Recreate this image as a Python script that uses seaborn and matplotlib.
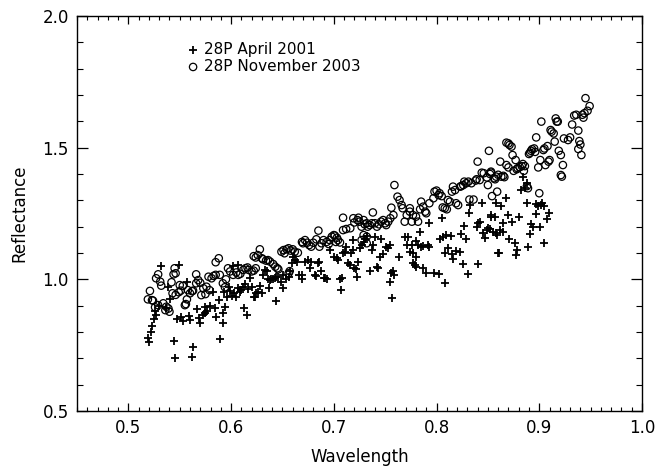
import matplotlib
matplotlib.use("Agg")
import matplotlib.pyplot as plt
import seaborn as sns
import pandas as pd
from matplotlib.ticker import MultipleLocator, FormatStrFormatter

# ---- data ----
apr2001_x = [
    0.519, 0.520, 0.522, 0.523, 0.525, 0.527, 0.526, 0.530, 0.532, 0.537, 0.541, 0.539,
    0.544, 0.545, 0.547, 0.549, 0.551, 0.553, 0.557, 0.559, 0.560, 0.562, 0.563, 0.567,
    0.569, 0.570, 0.573, 0.575, 0.577, 0.575, 0.579, 0.584, 0.585, 0.588, 0.582, 0.589,
    0.592, 0.594, 0.596, 0.593, 0.598, 0.592,
    0.599, 0.601, 0.603, 0.605, 0.607, 0.609, 0.610, 0.612, 0.614, 0.616, 0.618, 0.620,
    0.622, 0.623, 0.624, 0.626, 0.628, 0.630, 0.631, 0.633, 0.635, 0.636, 0.637, 0.638,
    0.639, 0.641, 0.643, 0.644, 0.644, 0.646, 0.649, 0.651, 0.651, 0.653, 0.656, 0.657,
    0.659, 0.660, 0.662, 0.664, 0.666, 0.669, 0.669, 0.672, 0.675, 0.677, 0.678, 0.682,
    0.683, 0.685, 0.613, 0.615, 0.602, 0.607,
    0.686, 0.688, 0.690, 0.691, 0.693, 0.696, 0.700, 0.703, 0.704, 0.706, 0.708, 0.707,
    0.709, 0.711, 0.712, 0.714, 0.716, 0.717, 0.719, 0.720, 0.722, 0.723, 0.724, 0.725,
    0.727, 0.729, 0.730, 0.732, 0.735, 0.737, 0.738, 0.740, 0.742, 0.743, 0.745, 0.746,
    0.748, 0.751, 0.753, 0.755, 0.755, 0.756, 0.758, 0.759, 0.757, 0.763, 0.769, 0.771,
    0.772, 0.774, 0.776, 0.777, 0.779, 0.780, 0.782, 0.784, 0.719,
    0.793, 0.805, 0.780, 0.785, 0.787, 0.792, 0.793, 0.777, 0.780, 0.787, 0.790, 0.798,
    0.802, 0.808, 0.803, 0.806, 0.809, 0.814, 0.808, 0.811, 0.815, 0.816, 0.819, 0.823,
    0.826, 0.824, 0.827, 0.829, 0.831, 0.832, 0.833, 0.839, 0.840, 0.840, 0.842, 0.844,
    0.845, 0.847, 0.849, 0.850, 0.852, 0.853, 0.855, 0.858, 0.859, 0.860,
    0.884, 0.882, 0.886, 0.888, 0.868, 0.863, 0.853, 0.857, 0.870, 0.880, 0.865, 0.873,
    0.862, 0.858, 0.865, 0.871, 0.876, 0.878, 0.877, 0.889, 0.891, 0.892, 0.894, 0.897,
    0.901, 0.905, 0.888, 0.897, 0.899, 0.902, 0.903, 0.905, 0.909, 0.908, 0.861,
]
apr2001_y = [
    0.776, 0.763, 0.800, 0.822, 0.848, 0.865, 0.880, 0.900, 1.052, 0.890, 0.925, 0.972,
    0.766, 0.700, 0.848, 1.054, 0.857, 0.840, 0.990, 0.860, 0.845, 0.706, 0.744, 0.886,
    0.853, 0.833, 0.865, 0.872, 0.880, 0.895, 0.900, 0.890, 0.858, 0.920, 0.953, 0.773,
    0.833, 0.896, 0.934, 0.951, 0.972, 0.871,
    0.957, 0.937, 0.950, 0.934, 0.966, 0.953, 0.959, 0.969, 0.982, 0.962, 1.004, 0.969,
    0.934, 0.932, 0.947, 0.953, 0.975, 0.950, 1.017, 1.035, 1.030, 1.000, 0.966, 0.997,
    1.000, 1.001, 1.004, 0.919, 1.010, 1.007, 0.991, 0.966, 1.017, 1.000, 1.010, 1.030,
    1.063, 1.086, 1.073, 1.067, 1.017, 1.000, 1.017, 1.067, 1.073, 1.042, 1.067, 1.017,
    1.013, 1.063, 0.890, 0.864, 1.050, 1.054,
    1.067, 1.030, 1.006, 1.004, 1.001, 1.111, 1.086, 1.080, 1.073, 1.000, 1.006, 0.959,
    1.099, 1.105, 1.124, 1.061, 1.054, 1.099, 1.111, 1.042, 1.039, 1.010, 1.067, 1.118,
    1.130, 1.142, 1.153, 1.166, 1.030, 1.111, 1.130, 1.162, 1.048, 1.042, 1.086, 1.153,
    1.095, 1.124, 1.120, 1.130, 0.991, 1.023, 1.030, 1.017, 0.930, 1.086, 1.162, 1.130,
    1.162, 1.105, 1.130, 1.099, 1.054, 1.086, 1.130, 1.181, 1.149,
    1.215, 1.232, 1.147, 1.124, 1.126, 1.130, 1.124, 1.061, 1.048, 1.042, 1.025, 1.023,
    1.020, 0.985, 1.152, 1.162, 1.168, 1.164, 1.101, 1.118, 1.096, 1.076, 1.109, 1.105,
    1.058, 1.172, 1.202, 1.152, 1.020, 1.251, 1.282, 1.200, 1.058, 1.213, 1.219, 1.291,
    1.175, 1.156, 1.187, 1.194, 1.190, 1.238, 1.181, 1.291, 1.168, 1.101,
    1.387, 1.339, 1.346, 1.365, 1.308, 1.279, 1.244, 1.235, 1.244, 1.235, 1.215, 1.219,
    1.187, 1.175, 1.181, 1.152, 1.137, 1.111, 1.092, 1.124, 1.172, 1.210, 1.200, 1.248,
    1.200, 1.139, 1.289, 1.286, 1.279, 1.282, 1.291, 1.279, 1.251, 1.228, 1.101,
]

nov2003_x = [
    0.521, 0.519, 0.523, 0.524, 0.529, 0.527, 0.531, 0.532, 0.526, 0.529, 0.534, 0.537,
    0.536, 0.539, 0.540, 0.542, 0.545, 0.546, 0.544, 0.543, 0.546, 0.549, 0.550, 0.553,
    0.551, 0.555, 0.556, 0.557, 0.558, 0.562, 0.563, 0.560, 0.566, 0.568, 0.566, 0.570,
    0.571, 0.575, 0.573, 0.576, 0.578, 0.581, 0.583, 0.585, 0.589, 0.585, 0.588, 0.597,
    0.599, 0.579, 0.592, 0.595, 0.594,
    0.602, 0.605, 0.607, 0.609, 0.612, 0.614, 0.616, 0.617, 0.620, 0.622, 0.624, 0.622,
    0.624, 0.626, 0.628, 0.630, 0.631, 0.634, 0.636, 0.638, 0.641, 0.643, 0.645, 0.646,
    0.649, 0.651, 0.652, 0.654, 0.656, 0.658, 0.660, 0.662, 0.665, 0.657, 0.656, 0.669,
    0.670, 0.672, 0.674, 0.676, 0.678, 0.680, 0.683, 0.685, 0.686, 0.688, 0.690, 0.693,
    0.695, 0.696, 0.698,
    0.700, 0.701, 0.703, 0.704, 0.706, 0.702, 0.709, 0.709, 0.712, 0.716, 0.719, 0.720,
    0.723, 0.724, 0.725, 0.729, 0.727, 0.730, 0.732, 0.733, 0.735, 0.737, 0.738, 0.740,
    0.742, 0.744, 0.746, 0.748, 0.750, 0.751, 0.753, 0.755, 0.756, 0.758, 0.759, 0.762,
    0.764, 0.766, 0.767, 0.769, 0.771, 0.774, 0.777, 0.780, 0.729, 0.732, 0.727, 0.732,
    0.774, 0.776, 0.782, 0.784, 0.787, 0.789, 0.790, 0.785, 0.793, 0.797, 0.798, 0.800,
    0.802, 0.803, 0.805, 0.806, 0.808, 0.810, 0.811, 0.813, 0.815, 0.816, 0.818, 0.819,
    0.821, 0.823, 0.824, 0.826, 0.827, 0.829, 0.831, 0.832, 0.836, 0.834, 0.838, 0.839,
    0.840, 0.842, 0.844, 0.846, 0.849, 0.850, 0.852, 0.853, 0.854, 0.857, 0.859, 0.851,
    0.853, 0.856, 0.858, 0.860, 0.863, 0.865, 0.866, 0.862, 0.868, 0.870, 0.871, 0.873,
    0.874, 0.868, 0.870, 0.875, 0.877, 0.878, 0.879, 0.881, 0.883, 0.884, 0.885, 0.886,
    0.888, 0.889, 0.890, 0.891, 0.892, 0.893, 0.895, 0.896, 0.897, 0.900, 0.899, 0.901,
    0.902, 0.904, 0.905, 0.906, 0.908, 0.909, 0.910, 0.911, 0.912, 0.914, 0.915, 0.916,
    0.917, 0.918, 0.919, 0.921, 0.922, 0.923, 0.924, 0.921, 0.930, 0.928, 0.932, 0.934,
    0.936, 0.938, 0.939, 0.940, 0.942, 0.943, 0.944, 0.947, 0.949, 0.945, 0.938, 0.941,
]
nov2003_y = [
    0.956, 0.924, 0.921, 0.919, 1.019, 1.004, 0.991, 0.976, 0.894, 0.902, 0.909, 0.896,
    0.883, 0.889, 0.877, 0.989, 1.042, 1.023, 1.019, 0.947, 0.941, 0.951, 0.978, 0.975,
    0.957, 0.902, 0.906, 0.924, 0.959, 0.955, 0.957, 0.947, 1.019, 0.997, 0.985, 0.987,
    0.940, 0.944, 0.966, 0.972, 1.010, 1.004, 1.013, 1.017, 1.017, 1.065, 1.080, 1.042,
    1.030, 0.959, 0.985, 1.000, 0.970,
    1.017, 1.026, 1.017, 1.021, 1.036, 1.042, 1.045, 1.036, 1.030, 1.033, 1.042, 1.088,
    1.083, 1.092, 1.114, 1.080, 1.076, 1.071, 1.073, 1.067, 1.058, 1.048, 1.042, 1.038,
    1.105, 1.111, 1.099, 1.114, 1.118, 1.109, 1.114, 1.105, 1.101, 1.031, 1.023, 1.142,
    1.137, 1.149, 1.139, 1.130, 1.124, 1.139, 1.152, 1.185, 1.124, 1.137, 1.149, 1.142,
    1.134, 1.149, 1.162,
    1.168, 1.166, 1.158, 1.149, 1.140, 1.142, 1.234, 1.187, 1.191, 1.194, 1.232, 1.216,
    1.225, 1.234, 1.219, 1.225, 1.200, 1.209, 1.213, 1.200, 1.206, 1.213, 1.254, 1.213,
    1.200, 1.209, 1.219, 1.225, 1.213, 1.206, 1.219, 1.232, 1.272, 1.244, 1.358, 1.314,
    1.301, 1.282, 1.270, 1.219, 1.244, 1.257, 1.244, 1.238, 1.168, 1.162, 1.149, 1.137,
    1.270, 1.219, 1.219, 1.266, 1.276, 1.257, 1.251, 1.295, 1.289, 1.308, 1.333, 1.337,
    1.320, 1.327, 1.316, 1.273, 1.270, 1.266, 1.301, 1.295, 1.333, 1.352, 1.339, 1.289,
    1.282, 1.352, 1.354, 1.358, 1.371, 1.365, 1.371, 1.303, 1.303, 1.365, 1.375, 1.380,
    1.447, 1.377, 1.405, 1.403, 1.387, 1.358, 1.400, 1.405, 1.316, 1.380, 1.333, 1.488,
    1.409, 1.384, 1.390, 1.397, 1.390, 1.393, 1.388, 1.447, 1.519, 1.516, 1.510, 1.504,
    1.472, 1.434, 1.425, 1.412, 1.453, 1.418, 1.422, 1.426, 1.430, 1.438, 1.412, 1.430,
    1.354, 1.346, 1.476, 1.481, 1.488, 1.494, 1.497, 1.484, 1.539, 1.327, 1.425, 1.453,
    1.599, 1.491, 1.497, 1.434, 1.506, 1.447, 1.453, 1.567, 1.561, 1.554, 1.523, 1.611,
    1.599, 1.599, 1.488, 1.396, 1.390, 1.434, 1.535, 1.472, 1.539, 1.529, 1.588, 1.622,
    1.625, 1.565, 1.525, 1.512, 1.625, 1.614, 1.631, 1.640, 1.658, 1.688, 1.495, 1.472,
]

series_labels = ["28P April 2001", "28P November 2003"]
x_label = "Wavelength"
y_label = "Reflectance"

# ---- plotting ----
sns.set_style("white")
plt.rcParams["font.family"] = ["DejaVu Sans"]
plt.rcParams["text.color"] = "black"
plt.rcParams["axes.labelcolor"] = "black"
plt.rcParams["xtick.color"] = "black"
plt.rcParams["ytick.color"] = "black"

fig = plt.figure(figsize=(6.55, 4.70), dpi=100)
ax = fig.add_axes([77 / 655, 1 - 411 / 470, 565 / 655, 395 / 470])

df_a = pd.DataFrame({"x": apr2001_x, "y": apr2001_y})
df_n = pd.DataFrame({"x": nov2003_x, "y": nov2003_y})

sns.scatterplot(data=df_a, x="x", y="y", ax=ax, marker="+", color="black",
                s=36, linewidth=1.3, label=series_labels[0])
sns.scatterplot(data=df_n, x="x", y="y", ax=ax, marker="o", facecolor="none",
                edgecolor="black", s=28, linewidth=0.9, label=series_labels[1])

ax.set_xlim(0.45, 1.0)
ax.set_ylim(0.5, 2.0)
ax.xaxis.set_major_locator(MultipleLocator(0.1))
ax.xaxis.set_minor_locator(MultipleLocator(0.01))
ax.yaxis.set_major_locator(MultipleLocator(0.5))
ax.yaxis.set_minor_locator(MultipleLocator(0.1))
ax.xaxis.set_major_formatter(FormatStrFormatter("%.1f"))
ax.yaxis.set_major_formatter(FormatStrFormatter("%.1f"))

ax.tick_params(axis="x", which="major", direction="in", length=5.8, width=0.9,
               top=True, bottom=True, labelsize=12, pad=6,
               color="black", labelcolor="black")
ax.tick_params(axis="x", which="minor", direction="in", length=2.9, width=0.8,
               top=True, bottom=True, color="black")
ax.tick_params(axis="y", which="major", direction="in", length=8.0, width=0.9,
               left=True, right=True, labelsize=12, pad=6,
               color="black", labelcolor="black")
ax.tick_params(axis="y", which="minor", direction="in", length=4.0, width=0.8,
               left=True, right=True, color="black")
for sp in ax.spines.values():
    sp.set_visible(True)
    sp.set_color("black")
    sp.set_linewidth(1.0)

ax.set_xlabel(x_label, fontsize=12, labelpad=8, color="black")
ax.set_ylabel(y_label, fontsize=12, labelpad=10, color="black")

leg = ax.legend(loc="upper left", bbox_to_anchor=(0.196, 0.935), frameon=False,
                fontsize=11, handlelength=0.7, handletextpad=0.35, borderpad=0,
                borderaxespad=0, labelspacing=0.15, markerscale=1.0)
for t in leg.get_texts():
    t.set_color("black")

fig.savefig("out.png", dpi=100, facecolor="white")
